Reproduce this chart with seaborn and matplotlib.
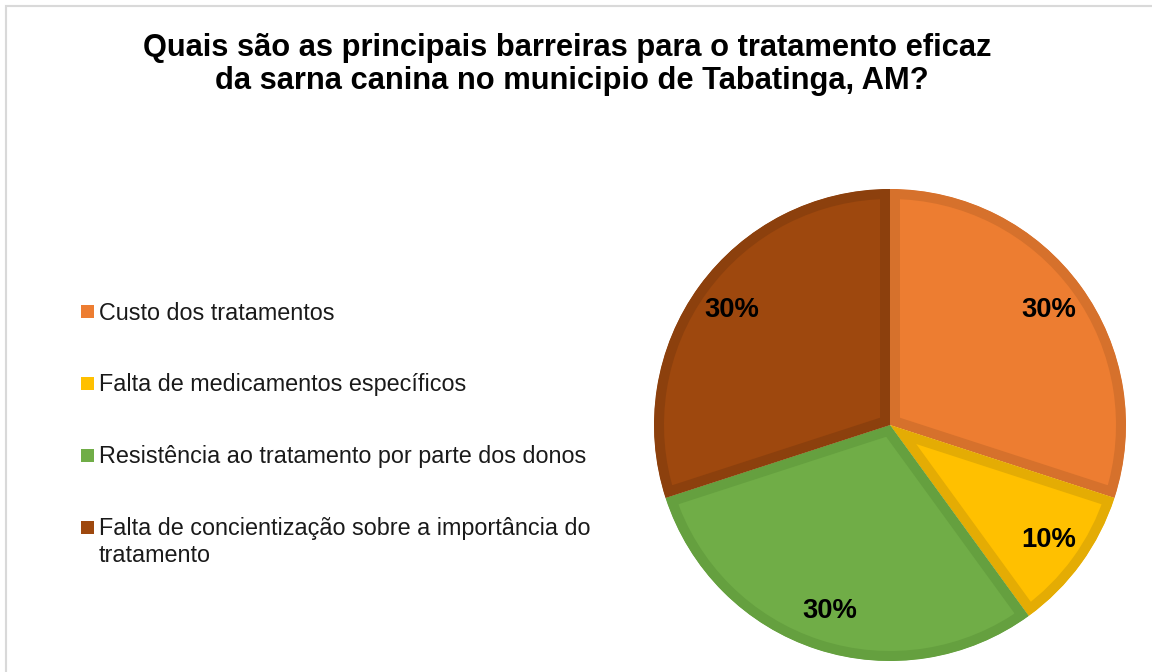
import textwrap
import matplotlib
matplotlib.use("Agg")
import matplotlib.pyplot as plt
import seaborn as sns
from matplotlib.patches import Rectangle

# ---- data ----
categories = [
    "Custo dos tratamentos",
    "Falta de medicamentos específicos",
    "Resistência ao tratamento por parte dos donos",
    "Falta de concientização sobre a importância do tratamento",
]
values = [30, 10, 30, 30]
title_lines = [
    "Quais são as principais barreiras para o tratamento eficaz",
    "da sarna canina no municipio de Tabatinga, AM?",
]

# ---- style ----
fill_colors = ["#ED7D31", "#FFC000", "#70AD47", "#9E480E"]
edge_colors = ["#D6712C", "#E4AC04", "#65A03F", "#8C400D"]

sns.set_theme(style="white")
plt.rcParams["font.family"] = ["Liberation Sans", "DejaVu Sans"]

W, H, DPI = 1152, 672, 96
fig = plt.figure(figsize=(W / DPI, H / DPI), dpi=DPI)
fig.patch.set_facecolor("white")

# outer frame (cropped at right/bottom like the reference)
fig.patches.append(Rectangle((6 / W, -0.05), 1.2, 1 - 6 / H + 0.05,
                             transform=fig.transFigure, fill=False,
                             edgecolor="#D9D9D9", linewidth=1.6))

# pie axes
cx, cy, r = 890, 425, 236
ax = fig.add_axes([(cx - r) / W, (H - cy - r) / H, 2 * r / W, 2 * r / H])
palette = sns.color_palette(fill_colors)
wedges, texts, autotexts = ax.pie(
    values, colors=palette, startangle=90, counterclock=False,
    autopct=lambda p: f"{p:.0f}%", pctdistance=0.83,
    textprops=dict(fontsize=20.5, fontweight="bold", color="black"),
)
ax.set_xlim(-1, 1)
ax.set_ylim(-1, 1)
ax.set_aspect("equal")
ax.axis("off")
for w, ec in zip(wedges, edge_colors):
    w.set_edgecolor(ec)
    w.set_linewidth(15)
    w.set_joinstyle("miter")
    w.set_clip_on(True)
    w.set_clip_path(w)

# title
fig.text(567 / W, 1 - 48 / H, title_lines[0], ha="center", va="center",
         fontsize=23.2, fontweight="bold", color="black")
fig.text(572 / W, 1 - 81 / H, title_lines[1], ha="center", va="center",
         fontsize=23.2, fontweight="bold", color="black")

# legend (manual, to keep marker aligned with first text line)
leg_y = [312, 383, 455, 527]
for lab, col, y in zip(categories, fill_colors, leg_y):
    s = 13
    fig.patches.append(Rectangle((81 / W, 1 - (y + s / 2) / H), s / W, s / H,
                                 transform=fig.transFigure, facecolor=col,
                                 edgecolor="none"))
    wrapped = textwrap.fill(lab, 46)
    fig.text(99 / W, 1 - (y - 10) / H, wrapped, ha="left", va="top",
             fontsize=17.5, color="#1A1A1A", linespacing=1.2)

fig.savefig("out.png", dpi=DPI, facecolor="white")
